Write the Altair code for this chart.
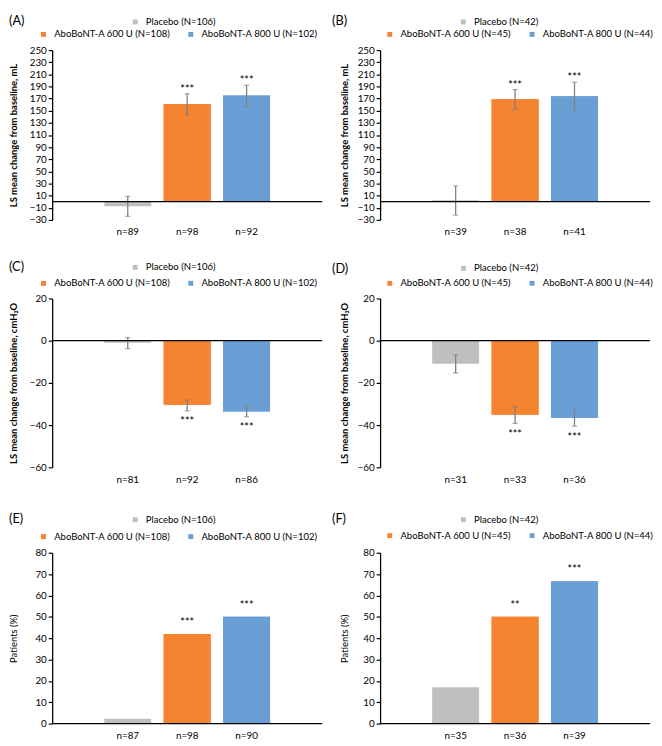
import altair as alt
import pandas as pd

FONT = "Lato"
ERR = "#7F7F7F"

groups = ["Placebo", "AboBoNT-A 600 U", "AboBoNT-A 800 U"]
colors = ["#BFBFBF", "#F5832F", "#6A9FD5"]
N_left = [106, 108, 102]
N_right = [42, 45, 44]

# (A) volume, left study
A_n = ["n=89", "n=98", "n=92"]
A_mean = [-7.5, 161, 175]
A_lo = [-24, 143, 157]
A_hi = [9, 178, 192]
A_sig = ["", "***", "***"]

# (B) volume, right study
B_n = ["n=39", "n=38", "n=41"]
B_mean = [2.5, 169, 174]
B_lo = [-22, 152, 150]
B_hi = [26, 185, 197]
B_sig = ["", "***", "***"]

# (C) pressure, left study
C_n = ["n=81", "n=92", "n=86"]
C_mean = [-1, -30.4, -33.5]
C_lo = [-3.7, -33.2, -36.0]
C_hi = [1.5, -28.1, -30.9]
C_sig = ["", "***", "***"]

# (D) pressure, right study
D_n = ["n=31", "n=33", "n=36"]
D_mean = [-10.9, -35.1, -36.6]
D_lo = [-15.3, -39.2, -40.5]
D_hi = [-6.8, -31.2, -32.7]
D_sig = ["", "***", "***"]

# (E) patients %, left study
E_n = ["n=87", "n=98", "n=90"]
E_pct = [2.3, 41.9, 50.0]
E_sig = ["", "***", "***"]

# (F) patients %, right study
F_n = ["n=35", "n=36", "n=39"]
F_pct = [17.0, 50.0, 66.7]
F_sig = ["", "**", "***"]

yt_vol = list(range(-30, 251, 20))
yt_pres = [-60, -40, -20, 0, 20]
yt_pct = list(range(0, 81, 10))

T_VOL = "LS mean change from baseline, mL"
T_PRES = "LS mean change from baseline, cmH\u2082O"
T_PCT = "Patients (%)"

W = 275


def panel(label, nlabs, mean, lo, hi, sig, Ns, dom, ticks, height, ytitle, bold,
          title_x, lab_xy, leg1, leg2, anchor_kind, star_dy, top=0):
    legs = [f"{g} (N={n})" for g, n in zip(groups, Ns)]
    df = pd.DataFrame({"nlab": nlabs, "value": mean, "leg": legs, "sig": sig,
                       "grp": [0, 1, 2]})
    if lo is not None:
        df["lo"] = lo
        df["hi"] = hi
    df["anchor"] = df[anchor_kind]
    view_h = height + top

    x = alt.X("nlab:N", sort=nlabs,
              scale=alt.Scale(paddingInner=0.21, paddingOuter=0.877),
              axis=alt.Axis(title=None, ticks=False, tickSize=0, domain=False,
                            labelAngle=0, labelPadding=7, labelFont=FONT,
                            labelFontSize=10, labelColor="black"))
    if top:
        yscale = alt.Scale(domain=dom, nice=False, range=[view_h, top])
    else:
        yscale = alt.Scale(domain=dom, nice=False)
    yaxis = alt.Axis(values=ticks, title=ytitle, grid=False, format="d",
                     domainColor="black", domainWidth=1.3,
                     tickColor="black", tickSize=4, tickWidth=1.2,
                     labelFont=FONT, labelFontSize=10, labelColor="black",
                     labelPadding=2, labelOverlap=False,
                     titleFont=FONT, titleFontSize=9.6,
                     titleFontWeight="bold" if bold else "normal",
                     titleColor="black", titleX=title_x, titleY=top + height / 2,
                     titleAngle=270, titleAlign="center", titleBaseline="middle")

    def Y(field):
        return alt.Y(field, scale=yscale, axis=yaxis)

    base = alt.Chart(df)
    leg_common = dict(orient="none", title=None, symbolType="square", symbolSize=25,
                      symbolStrokeWidth=0, labelFont=FONT, labelFontSize=9.7,
                      labelColor="black", labelOffset=6, padding=0, labelLimit=0)
    bars_c = base.mark_bar().encode(
        x=x, y=Y("value:Q"),
        color=alt.Color("leg:N", scale=alt.Scale(domain=legs, range=colors),
                        legend=alt.Legend(values=legs[:1], legendX=leg1[0],
                                          legendY=leg1[1], **leg_common)))
    bars_f = base.transform_filter("datum.grp > 0").mark_bar().encode(
        x=x, y=Y("value:Q"),
        fill=alt.Fill("leg:N", scale=alt.Scale(domain=legs[1:], range=colors[1:]),
                      legend=alt.Legend(legendX=leg2[0], legendY=leg2[1],
                                        direction="horizontal",
                                        columnPadding=16, **leg_common)))
    layers = [bars_c, bars_f]
    if lo is not None:
        layers.append(base.mark_rule(color=ERR, strokeWidth=1.3).encode(
            x=x, y=Y("lo:Q"), y2="hi:Q"))
        layers.append(base.mark_tick(color=ERR, thickness=1.2, size=5).encode(
            x=x, y=Y("lo:Q")))
        layers.append(base.mark_tick(color=ERR, thickness=1.2, size=5).encode(
            x=x, y=Y("hi:Q")))
    layers.append(base.mark_text(font=FONT, fontSize=11, baseline="alphabetic",
                                 dy=star_dy, color="black").encode(
        x=x, y=Y("anchor:Q"), text="sig:N"))
    zero = alt.Chart(pd.DataFrame({"z": [0]})).mark_rule(
        color="black", strokeWidth=1.3).encode(y=Y("z:Q"))
    layers.append(zero)
    lab = alt.Chart(pd.DataFrame({"t": [label]})).mark_text(
        align="left", baseline="middle", font=FONT, fontSize=13, color="black"
    ).encode(x=alt.value(lab_xy[0]), y=alt.value(lab_xy[1]), text="t:N")
    layers.append(lab)
    return alt.layer(*layers).properties(width=W, height=view_h)


pA = panel("(A)", A_n, A_mean, A_lo, A_hi, A_sig, N_left, [-30, 250], yt_vol, 173,
           T_VOL, True, -39, (-44, -30), (79.7, -33.5), (-13.7, -21), "hi", -1)
pB = panel("(B)", B_n, B_mean, B_lo, B_hi, B_sig, N_right, [-30, 250], yt_vol, 173,
           T_VOL, True, -36, (-49, -30), (80, -33.5), (5, -21), "hi", -1)
pC = panel("(C)", C_n, C_mean, C_lo, C_hi, C_sig, N_left, [-60, 20], yt_pres, 172,
           T_PRES, True, -39, (-44, -32), (79.7, -36.5), (-13.7, -20.5), "lo", 15)
pD = panel("(D)", D_n, D_mean, D_lo, D_hi, D_sig, N_right, [-60, 20], yt_pres, 172,
           T_PRES, True, -36, (-49, -30), (80, -35.5), (5, -20.5), "lo", 15)
pE = panel("(E)", E_n, E_pct, None, None, E_sig, N_left, [0, 80], yt_pct, 174,
           T_PCT, False, -39, (-44, -27), (79.7, -31.5), (-13.7, -14.5), "value", -8,
           top=7)
pF = panel("(F)", F_n, F_pct, None, None, F_sig, N_right, [0, 80], yt_pct, 174,
           T_PCT, False, -36, (-49, -27), (80, -31.5), (5, -15.5), "value", -8,
           top=7)

chart = alt.concat(pA, pB, pC, pD, pE, pF, columns=2, align="each",
                   spacing={"row": 80, "column": 59}, bounds="flush")
chart = chart.resolve_scale(color="independent", fill="independent",
                            x="independent", y="independent")
chart = chart.resolve_legend(color="independent", fill="independent")
chart = chart.configure_view(stroke=None).properties(padding=0, background="white")

chart.save("out.html", embed_options={"renderer": "svg", "actions": False})
